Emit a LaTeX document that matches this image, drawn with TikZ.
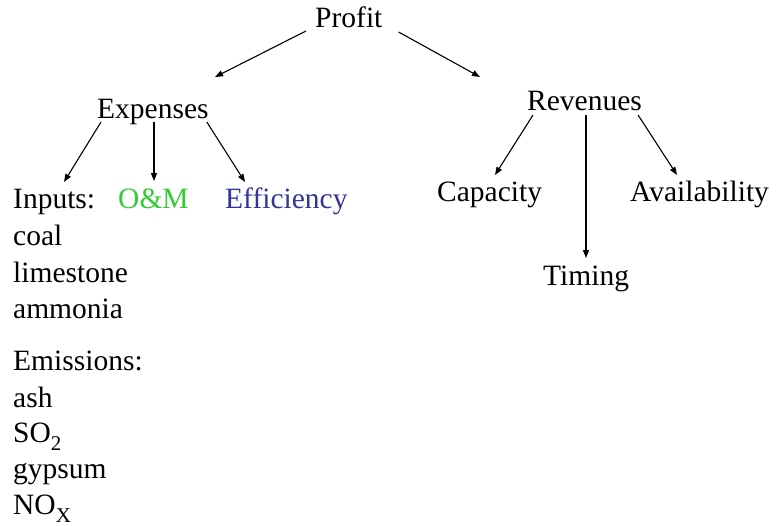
\documentclass[tikz,border=0pt]{standalone}
\usepackage{fontspec}
\setmainfont{Liberation Serif}
\usetikzlibrary{arrows.meta}
\definecolor{omgreen}{HTML}{33CC33}
\definecolor{effblue}{HTML}{333399}
% text subscript in the body font, dropped below the baseline
\newcommand{\lowsub}[1]{\raisebox{-8pt}{\fontsize{21}{21}\selectfont #1}}
\begin{document}
\begin{tikzpicture}[x=1pt,y=-1pt,
  lbl/.style={inner sep=0pt,anchor=base west,font=\fontsize{29.5}{36}\selectfont},
  arr/.style={line width=1.1pt,-{Triangle[length=8pt,width=6pt]}}]
\useasboundingbox (0,0) rectangle (776,525);

% tree labels
\node[lbl] (profit)   at (315,27)  {Profit};
\node[lbl] (expenses) at (97,118)  {Expenses};
\node[lbl] (revenues) at (527,110) {Revenues};
\node[lbl] (inputs)   at (13,208)  {Inputs:};
\node[lbl,text=omgreen] (om)  at (118,208) {O\&M};
\node[lbl,text=effblue] (eff) at (225,208) {Efficiency};
\node[lbl] (capacity) at (437,201) {Capacity};
\node[lbl] (avail)    at (630,201) {Availability};
\node[lbl] (timing)   at (543,285) {Timing};

% input and emission lists
\node[lbl] (coal)  at (13,245) {coal};
\node[lbl] (lime)  at (13,282) {limestone};
\node[lbl] (ammon) at (13,318) {ammonia};
\node[lbl] (emis)  at (13,370) {Emissions:};
\node[lbl] (ash)   at (13,407) {ash};
\node[lbl] (so2)   at (13,442) {SO\lowsub{2}};
\node[lbl] (gyp)   at (13,478) {gypsum};
\node[lbl] (nox)   at (13,514) {NO\lowsub{X}};

% connectors
\draw[arr] ([shift={(-9,4)}]profit.base west) -- ([shift={(118,-41)}]expenses.base west);
\draw[arr] ([shift={(16,5)}]profit.base east) -- ([shift={(-47,-33)}]revenues.base west);
\draw[arr] ([shift={(4,4)}]expenses.base west) -- ([shift={(51,-26)}]inputs.base west);
\draw[arr] ([shift={(57,4)}]expenses.base west) -- ([shift={(36,-27)}]om.base west);
\draw[arr] ([shift={(-2,4)}]expenses.base east) -- ([shift={(20,-26)}]eff.base west);
\draw[arr] ([shift={(6,5)}]revenues.base west) -- ([shift={(58,-26)}]capacity.base west);
\draw[arr] ([shift={(59,5)}]revenues.base west) -- ([shift={(43,-27)}]timing.base west);
\draw[arr] ([shift={(-4,5)}]revenues.base east) -- ([shift={(47,-26)}]avail.base west);
\end{tikzpicture}
\end{document}
